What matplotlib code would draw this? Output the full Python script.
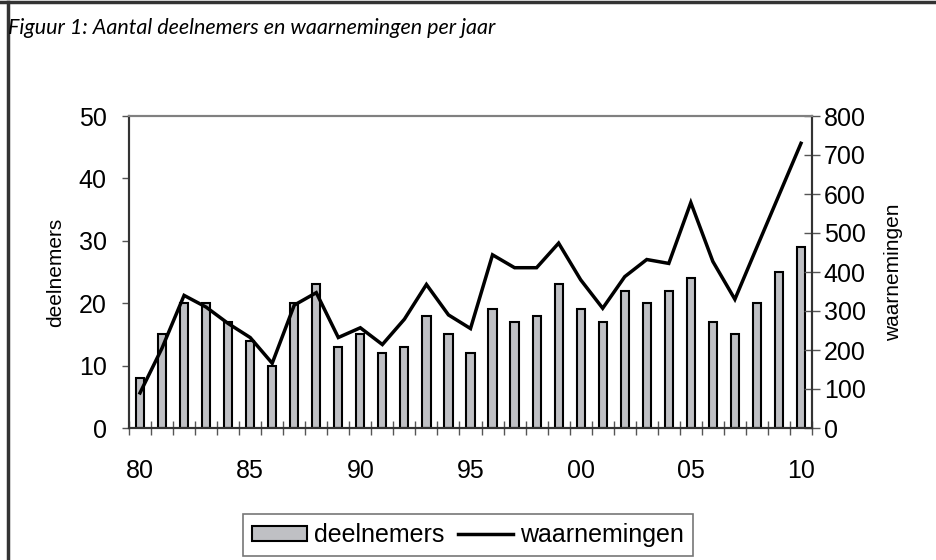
import matplotlib
matplotlib.use("Agg")
import matplotlib.pyplot as plt
from matplotlib.lines import Line2D
from matplotlib.patches import Patch
import numpy as np

# data
years = list(range(1980, 2011))
year_labels = ["80", "85", "90", "95", "00", "05", "10"]
deelnemers = [8, 15, 20, 20, 17, 14, 10, 20, 23, 13,
              15, 12, 13, 18, 15, 12, 19, 17, 18, 23,
              19, 17, 22, 20, 22, 24, 17, 15, 20, 25, 29]
waarnemingen = [90, 205, 340, 310, 268, 232, 166, 315, 347, 232,
                257, 214, 279, 368, 290, 255, 444, 411, 411, 474,
                380, 307, 388, 432, 422, 578, 427, 330, 464, 597, 730]

plt.rcParams["font.family"] = ["Liberation Sans", "DejaVu Sans"]

fig = plt.figure(figsize=(9.36, 5.6), dpi=100)
ax = fig.add_axes([129 / 936, 1 - 428 / 560, (812 - 129) / 936, (428 - 116) / 560])
ax2 = ax.twinx()

x = np.arange(len(years))
ax.bar(x, deelnemers, width=0.37, color="#bfc0c4", edgecolor="black", linewidth=1.5,
       zorder=2)
ax2.plot(x, waarnemingen, color="black", linewidth=2.5, solid_joinstyle="miter", zorder=3)

ax.set_xlim(-0.5, len(years) - 0.5)
ax.set_ylim(0, 50)
ax2.set_ylim(0, 800)

# x axis: labels every 5 years at category centres, tick marks between categories
ax.set_xticks(x[::5])
ax.set_xticklabels(year_labels)
ax.set_xticks(np.arange(-0.5, len(years)), minor=True)
ax.tick_params(axis="x", which="major", length=0, pad=22, labelsize=18)
ax.tick_params(axis="x", which="minor", direction="inout", length=10, width=1,
               color="#555555")

ax.set_yticks(range(0, 51, 10))
ax.tick_params(axis="y", length=5, width=1, color="#555555", pad=11, labelsize=18)
ax2.set_yticks(range(0, 801, 100))
ax2.tick_params(axis="y", direction="inout", length=11, width=1, color="#555555",
                pad=3, labelsize=18)

ax.set_ylabel("deelnemers", fontsize=15, labelpad=10)
ax2.set_ylabel("waarnemingen", fontsize=15, labelpad=13)

for a in (ax, ax2):
    a.spines["top"].set_color("#808080")
    a.spines["top"].set_linewidth(1.5)
    for s in ("left", "bottom", "right"):
        a.spines[s].set_color("#333333")
        a.spines[s].set_linewidth(1.5)
ax.set_zorder(ax2.get_zorder() - 1)
ax2.patch.set_visible(False)

handles = [Patch(facecolor="#bfc0c4", edgecolor="black", linewidth=1.5),
           Line2D([0], [0], color="black", linewidth=2.5)]
leg = fig.legend(handles, ["deelnemers", "waarnemingen"], loc="center",
                 bbox_to_anchor=(468 / 936, 1 - 535 / 560), ncol=2, fontsize=18,
                 frameon=True, fancybox=False, handlelength=2.2, handleheight=0.56,
                 handletextpad=0.28, columnspacing=0.56, borderpad=0.36,
                 borderaxespad=0)
leg.get_frame().set_edgecolor("#555555")
leg.get_frame().set_linewidth(1.2)

fig.text(8 / 936, 1 - 28 / 560, "Figuur 1: Aantal deelnemers en waarnemingen per jaar",
         fontsize=15.5, style="italic", family=["Lato", "DejaVu Sans"], va="center",
         ha="left")

# outer frame (top and left edges)
fig.add_artist(Line2D([0, 1], [1 - 2 / 560, 1 - 2 / 560], color="#333333", linewidth=2.5))
fig.add_artist(Line2D([8 / 936, 8 / 936], [0, 1 - 2 / 560], color="#333333", linewidth=2.5))

fig.savefig("out.png", dpi=100)
